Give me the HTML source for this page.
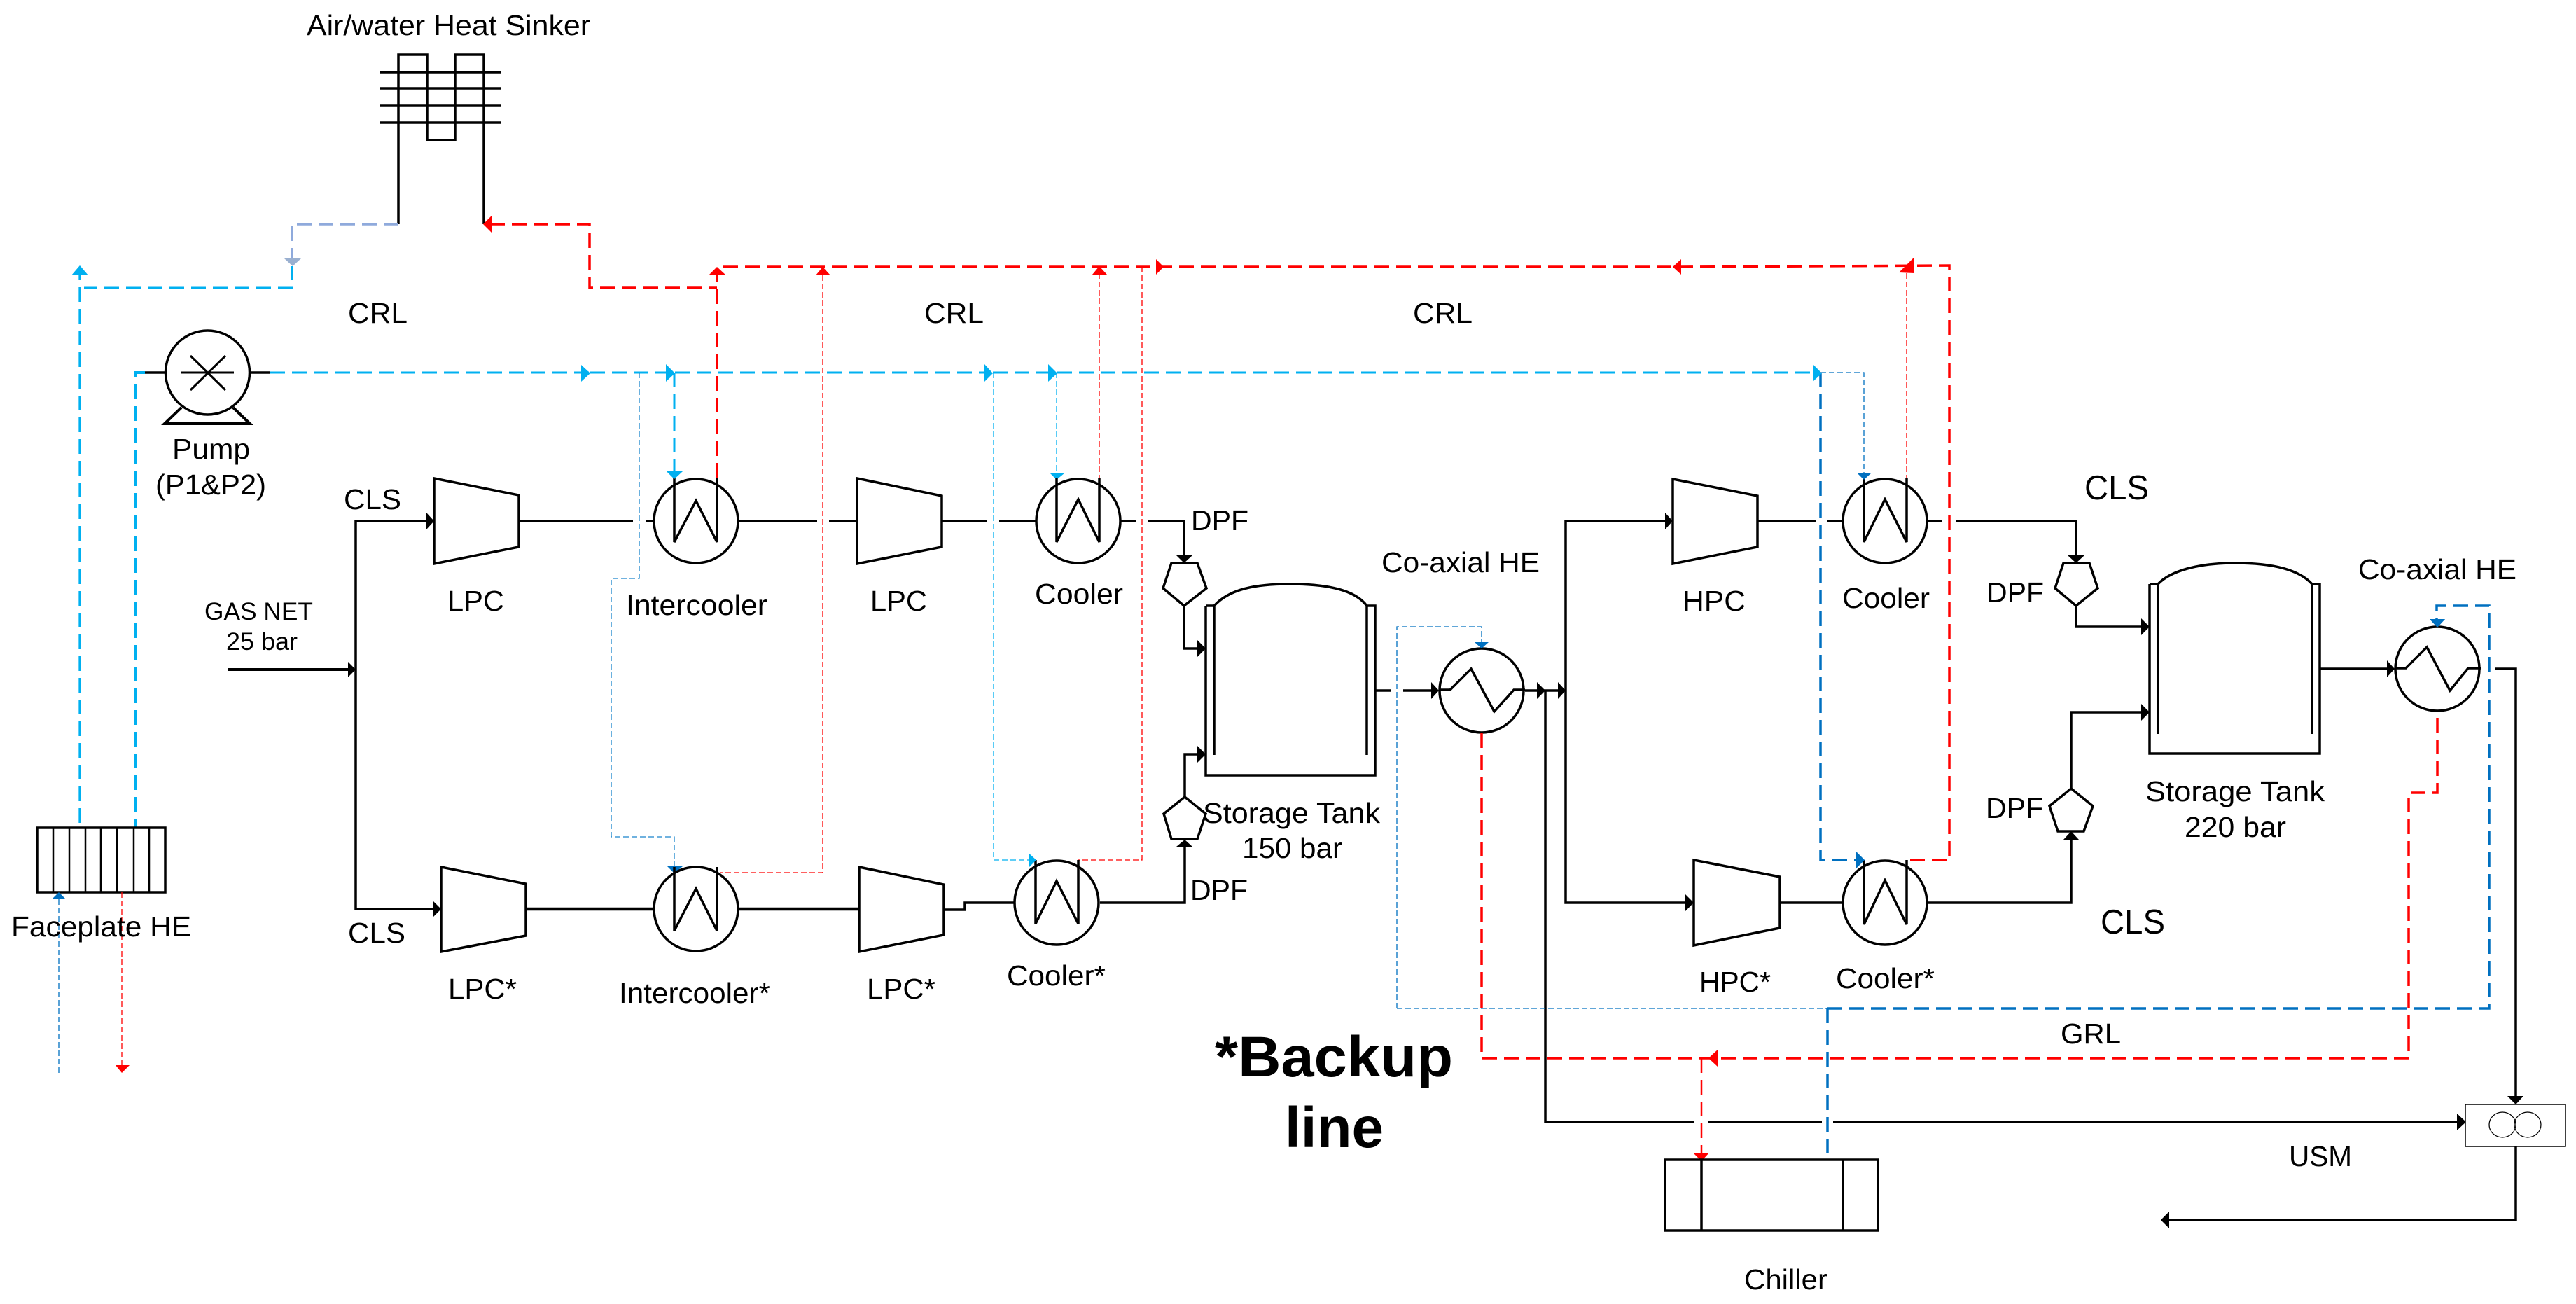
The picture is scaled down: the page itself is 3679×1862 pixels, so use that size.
<!DOCTYPE html>
<html><head><meta charset="utf-8"><style>
html,body{margin:0;padding:0;background:#fff}
svg{display:block}
text{font-family:"Liberation Sans",Arial,sans-serif;font-size:41px;fill:#000}
.k{fill:none;stroke:#000;stroke-width:4;stroke-linejoin:miter}
.t{fill:none;stroke:#000;stroke-width:3.5}
.c{fill:#fff;stroke:#000;stroke-width:3.5}
.d{fill:none;stroke-width:3.5;stroke-dasharray:21 10}
.m{fill:none;stroke-width:2.5;stroke-dasharray:21 10}
.n{fill:none;stroke-width:1.3;stroke-dasharray:8 4}
.r{stroke:#f00}.b{stroke:#00b0f0}.u{stroke:#0070c0}.g{stroke:#8faadc}
.fr{fill:#f00}.fb{fill:#00b0f0}.fu{fill:#0070c0}.fg{fill:#9ab0d0}.fk{fill:#000}
</style></head><body>
<svg xmlns="http://www.w3.org/2000/svg" width="3679" height="1862" viewBox="0 0 3679 1862">
<rect width="3679" height="1862" fill="#fff"/>

<!-- Heat sinker -->
<path class="t" d="M569 320V78H610V200H650V78H691V320"/>
<path class="t" d="M543 103H716M543 126H716M543 151H716M543 175H716"/>
<path class="d g" d="M569 320H417V372"/>
<polygon class="fg" points="406,369 430,369 418,380"/>
<path class="d b" style="stroke-width:3" d="M417 380V400"/>
<path class="d b" style="stroke-width:3" d="M418 411H120"/>
<path class="d b" style="stroke-width:3.3;stroke-dashoffset:12" d="M114 391V1182"/>
<polygon class="fb" points="102,393 126,393 114,379"/>
<polygon class="fr" points="690,320 702,308 702,332"/>
<path class="d r" d="M700 320H842V411H1024"/>
<path class="d r" d="M1024 682V381H2400L2784 379V1228H2723"/>
<polygon class="fr" points="1024,381 1012,393 1037,393"/>

<!-- Pump -->
<circle class="c" cx="296.5" cy="532" r="60"/>
<path class="t" d="M259 532H334M272 508L322 557M322 508L272 557" style="stroke-width:3"/>
<path class="k" d="M259 582L235 605H357L333 582"/>
<path class="t" d="M207 532H235M358 532H386"/>
<path class="d b" d="M207 532H193V1182" style="stroke-width:4"/>
<path class="d b" style="stroke-width:3" d="M386 532H843"/>
<path class="d b" style="stroke-width:3" d="M843 532H951"/>
<path class="d b" style="stroke-width:3" d="M964 532H1406"/>
<path class="d b" style="stroke-width:3" d="M1418 532H1497"/>
<path class="d b" style="stroke-width:3" d="M1510 532H2592"/>
<path class="d u" d="M2600 532V1228H2655"/>
<polygon class="fb" points="843,533 830,521 830,545"/>
<polygon class="fb" points="964,533 951,520 951,545"/>
<polygon class="fb" points="1418,533 1406,520 1406,545"/>
<polygon class="fb" points="1510,533 1497,520 1497,545"/>
<polygon class="fb" points="2602,533 2589,520 2589,545"/>

<!-- Thin blue lines -->
<path class="n" stroke="#1a85cc" d="M913 532V826H873V1195H963V1240"/>
<polygon class="fu" points="953,1237 975,1237 963,1247"/>
<path class="d b" style="stroke-width:3" d="M963 532V675"/>
<polygon class="fb" points="951,672 976,672 963,684"/>
<path class="n b" d="M1509 532V677"/>
<polygon class="fb" points="1499,675 1521,675 1509,685"/>
<path class="n b" d="M1419 532V1228H1470"/>
<path class="n u" d="M2600 532H2662V677"/>
<polygon class="fu" points="2652,675 2673,675 2662,685"/>

<!-- Thin red lines -->
<path class="n r" d="M1175 381V1246H1028"/>
<polygon class="fr" points="1175,381 1165,393 1186,393"/>
<path class="n r" d="M1570 686V381"/>
<polygon class="fr" points="1570,380 1560,392 1581,392"/>
<path class="n r" d="M1631 381V1228H1540"/>
<path class="n r" d="M2723 686V388"/>
<polygon class="fr" points="2712,389 2734,367 2734,390"/>
<polygon class="fr" points="1662,381 1651,370 1651,392"/>
<polygon class="fr" points="2389,381 2401,370 2401,392"/>

<!-- Faceplate -->
<rect class="t" x="53" y="1182" width="183" height="92"/>
<path d="M76 1182V1274M99 1182V1274M122 1182V1274M144 1182V1274M167 1182V1274M191 1182V1274M213 1182V1274" stroke="#000" stroke-width="2.5" fill="none"/>
<path class="n u" d="M84 1284V1532"/>
<polygon class="fu" points="84,1274 74,1284 94,1284"/>
<path class="n r" d="M174 1274V1524"/>
<polygon class="fr" points="174,1532 165,1521 185,1521"/>

<!-- CLS lines -->
<path class="k" d="M326 956H497"/>
<polygon class="fk" points="508,956 497,945 497,967"/>
<path class="k" d="M610 744H508V1298H620" style="stroke-width:3.5"/>
<polygon class="fk" points="620,744 609,732 609,756"/>
<polygon class="fk" points="630,1298 618,1286 618,1310"/>

<!-- LPC -->
<polygon class="c" points="620,683 741,707 741,781 620,805"/>
<path class="t" d="M741 744H904M922 744H933M1055 744H1167M1184 744H1224"/>
<circle class="c" cx="994" cy="744" r="60"/>
<path class="t" d="M963 682V774L994 715L1024 774V682"/>
<polygon class="fb" points="951,672 976,672 963,684"/>
<path class="d r" d="M1024 682V390"/>

<polygon class="c" points="1224,683 1345,708 1345,781 1224,805"/>
<path class="t" d="M1345 744H1410M1427 744H1479M1600 744H1622M1640 744H1691V796"/>
<circle class="c" cx="1540" cy="744" r="60"/>
<path class="t" d="M1509 682V774L1540 713L1570 774V682"/>
<polygon class="fk" points="1691,804 1680,793 1703,793"/>
<polygon class="c" points="1673,804 1710,804 1723,840 1691,865 1661,840"/>
<path class="t" d="M1691 865V926H1712"/>
<polygon class="fk" points="1722,926 1710,914 1710,938"/>

<!-- Lower row -->
<polygon class="c" points="630,1238 751,1262 751,1336 630,1359"/>
<path class="k" d="M751 1298H933M1055 1298H1227" style="stroke-width:4.5"/>
<circle class="c" cx="994" cy="1298" r="60"/>
<path class="t" d="M963 1238V1329L994 1269L1024 1329V1238"/>
<polygon class="c" points="1227,1238 1348,1263 1348,1335 1227,1359"/>
<path class="t" d="M1348 1299H1378V1289H1448"/>
<circle class="c" cx="1509" cy="1289" r="60"/>
<path class="t" d="M1479 1228V1319L1509 1258L1540 1319V1228"/>
<polygon class="fb" points="1480,1228 1469,1218 1469,1239"/>
<path class="t" d="M1571 1289H1692V1207"/>
<polygon class="fk" points="1692,1199 1680,1209 1703,1209"/>
<polygon class="c" points="1692,1138 1722,1162 1710,1198 1673,1198 1662,1162"/>
<path class="t" d="M1692 1138V1077H1712"/>
<polygon class="fk" points="1722,1077 1710,1065 1710,1089"/>

<!-- Tank 150 -->
<path class="t" d="M1722 865V1107H1964V865H1952V1078M1722 865H1734V1078"/>
<path class="t" d="M1734 865C1755 842 1790 834 1842 834C1895 834 1935 842 1952 865"/>

<!-- Coaxial 1 -->
<path class="t" d="M1964 986H1987M2004 986H2048"/>
<polygon class="fk" points="2055,986 2044,974 2044,998"/>
<circle class="c" cx="2116" cy="986" r="60"/>
<path class="t" d="M2055 985H2071L2101 955L2134 1016L2162 985H2178"/>
<path class="t" d="M2178 986H2230"/>
<polygon class="fk" points="2207,986 2195,974 2195,998"/>
<polygon class="fk" points="2236,986 2225,974 2225,998"/>
<path class="t" d="M2207 986V1602H2420M2440 1602H2602M2618 1602H3512"/>
<polygon class="fk" points="3522,1602 3509,1590 3509,1614"/>
<path class="t" d="M2380 744H2236V1289H2412"/>
<polygon class="fk" points="2389,744 2378,732 2378,756"/>
<polygon class="fk" points="2419,1289 2407,1277 2407,1301"/>
<path class="n u" d="M1995 1440V895H2116V918"/>
<polygon class="fu" points="2106,917 2126,917 2116,926"/>
<path class="n u" d="M1995 1440H2610"/>
<path class="d u" d="M2610 1440H3555V865H3480V888"/>
<polygon class="fu" points="3470,884 3492,884 3481,896"/>
<path class="d u" d="M2610 1440V1656"/>
<path class="d r" d="M2116 1047V1511H3440V1132H3481V1016"/>
<polygon class="fr" points="2440,1511 2453,1499 2453,1523"/>
<path class="m r" d="M2430 1511V1650"/>
<polygon class="fr" points="2430,1658 2418,1646 2441,1646"/>

<!-- Chiller -->
<rect class="t" x="2378" y="1656" width="304" height="101"/>
<path class="t" d="M2430 1656V1757M2632 1656V1757"/>

<!-- HPC -->
<polygon class="c" points="2389,684 2510,708 2510,781 2389,805"/>
<path class="t" d="M2510 744H2594M2610 744H2631M2753 744H2774M2793 744H2965V796"/>
<circle class="c" cx="2692" cy="744" r="60"/>
<path class="t" d="M2662 682V774L2692 713L2723 774V682"/>
<polygon class="fu" points="2652,675 2672,675 2662,685"/>
<polygon class="fk" points="2965,804 2953,793 2977,793"/>
<polygon class="c" points="2947,804 2984,804 2996,840 2965,865 2935,840"/>
<path class="t" d="M2965 865V895H3060"/>
<polygon class="fk" points="3070,895 3058,883 3058,907"/>

<polygon class="c" points="2419,1228 2542,1252 2542,1325 2419,1350"/>
<path class="t" d="M2542 1289H2632M2753 1289H2958V1195"/>
<circle class="c" cx="2692" cy="1289" r="60"/>
<path class="t" d="M2662 1228V1320L2692 1257L2723 1320V1228"/>
<polygon class="fu" points="2663,1228 2651,1216 2651,1240"/>
<polygon class="fk" points="2958,1187 2947,1199 2969,1199"/>
<polygon class="c" points="2958,1126 2989,1151 2976,1187 2939,1187 2927,1151"/>
<path class="t" d="M2958 1126V1017H3060"/>
<polygon class="fk" points="3070,1017 3058,1005 3058,1029"/>

<!-- Tank 220 -->
<path class="t" d="M3070 834V1076H3313V834H3302V1048M3070 834H3082V1048"/>
<path class="t" d="M3082 834C3100 815 3140 804 3192 804C3250 804 3285 815 3302 834"/>

<!-- Coaxial 2 -->
<path class="t" d="M3313 955H3412"/>
<polygon class="fk" points="3420,955 3409,943 3409,967"/>
<circle class="c" cx="3481" cy="955" r="60"/>
<path class="t" d="M3420 954H3436L3466 924L3499 986L3525 954H3543"/>
<path class="t" d="M3564 955H3593V1570"/>
<polygon class="fk" points="3593,1577 3581,1565 3604,1565"/>
<polygon class="fu" points="3481,896 3470,884 3492,884"/>

<!-- USM -->
<rect x="3521" y="1577" width="143" height="60" fill="#fff" stroke="#000" stroke-width="1.5"/>
<ellipse cx="3574" cy="1606" rx="19" ry="18" fill="none" stroke="#000" stroke-width="1.2"/>
<ellipse cx="3610" cy="1606" rx="19" ry="18" fill="none" stroke="#000" stroke-width="1.2"/>
<polygon class="fk" points="3521,1602 3509,1590 3509,1614"/>
<path class="t" d="M3593 1637V1742H3095"/>
<polygon class="fk" points="3086,1742 3098,1730 3098,1754"/>

<!-- Labels -->
<text x="438" y="50" textLength="405" lengthAdjust="spacingAndGlyphs">Air/water Heat Sinker</text>
<text x="497" y="461" textLength="85" lengthAdjust="spacingAndGlyphs">CRL</text>
<text x="1320" y="461" textLength="85" lengthAdjust="spacingAndGlyphs">CRL</text>
<text x="2018" y="461" textLength="85" lengthAdjust="spacingAndGlyphs">CRL</text>
<text x="246" y="655" textLength="111" lengthAdjust="spacingAndGlyphs">Pump</text>
<text x="222" y="706" textLength="158" lengthAdjust="spacingAndGlyphs">(P1&amp;P2)</text>
<text x="491" y="727" textLength="82" lengthAdjust="spacingAndGlyphs">CLS</text>
<text x="639" y="872" textLength="81" lengthAdjust="spacingAndGlyphs">LPC</text>
<text x="894" y="878" textLength="202" lengthAdjust="spacingAndGlyphs">Intercooler</text>
<text x="292" y="885" textLength="155" lengthAdjust="spacingAndGlyphs" style="font-size:35px">GAS NET</text>
<text x="323" y="928" textLength="102" lengthAdjust="spacingAndGlyphs" style="font-size:35px">25 bar</text>
<text x="16" y="1337" textLength="257" lengthAdjust="spacingAndGlyphs">Faceplate HE</text>
<text x="497" y="1346" textLength="82" lengthAdjust="spacingAndGlyphs">CLS</text>
<text x="640" y="1426" textLength="98" lengthAdjust="spacingAndGlyphs">LPC*</text>
<text x="884" y="1432" textLength="216" lengthAdjust="spacingAndGlyphs">Intercooler*</text>
<text x="1243" y="872" textLength="81" lengthAdjust="spacingAndGlyphs">LPC</text>
<text x="1238" y="1426" textLength="98" lengthAdjust="spacingAndGlyphs">LPC*</text>
<text x="1478" y="862" textLength="126" lengthAdjust="spacingAndGlyphs">Cooler</text>
<text x="1438" y="1407" textLength="141" lengthAdjust="spacingAndGlyphs">Cooler*</text>
<text x="1701" y="757" textLength="82" lengthAdjust="spacingAndGlyphs">DPF</text>
<text x="1700" y="1285" textLength="82" lengthAdjust="spacingAndGlyphs">DPF</text>
<text x="1973" y="817" textLength="226" lengthAdjust="spacingAndGlyphs">Co-axial HE</text>
<text x="1718" y="1175" textLength="253" lengthAdjust="spacingAndGlyphs">Storage Tank</text>
<text x="1774" y="1225" textLength="143" lengthAdjust="spacingAndGlyphs">150 bar</text>
<text x="2403" y="872" textLength="90" lengthAdjust="spacingAndGlyphs">HPC</text>
<text x="2427" y="1416" textLength="102" lengthAdjust="spacingAndGlyphs">HPC*</text>
<text x="2631" y="868" textLength="125" lengthAdjust="spacingAndGlyphs">Cooler</text>
<text x="2622" y="1411" textLength="141" lengthAdjust="spacingAndGlyphs">Cooler*</text>
<text x="2977" y="713" textLength="92" lengthAdjust="spacingAndGlyphs" style="font-size:49px">CLS</text>
<text x="3000" y="1333" textLength="92" lengthAdjust="spacingAndGlyphs" style="font-size:49px">CLS</text>
<text x="2837" y="860" textLength="82" lengthAdjust="spacingAndGlyphs">DPF</text>
<text x="2836" y="1168" textLength="82" lengthAdjust="spacingAndGlyphs">DPF</text>
<text x="3064" y="1144" textLength="256" lengthAdjust="spacingAndGlyphs">Storage Tank</text>
<text x="3120" y="1195" textLength="145" lengthAdjust="spacingAndGlyphs">220 bar</text>
<text x="3368" y="827" textLength="226" lengthAdjust="spacingAndGlyphs">Co-axial HE</text>
<text x="2943" y="1490" textLength="86" lengthAdjust="spacingAndGlyphs">GRL</text>
<text x="3269" y="1665" textLength="90" lengthAdjust="spacingAndGlyphs">USM</text>
<text x="2491" y="1841" textLength="119" lengthAdjust="spacingAndGlyphs">Chiller</text>
<text x="1735" y="1537" textLength="340" lengthAdjust="spacingAndGlyphs" style="font-size:82px;font-weight:bold">*Backup</text>
<text x="1835" y="1638" textLength="141" lengthAdjust="spacingAndGlyphs" style="font-size:82px;font-weight:bold">line</text>
</svg>
</body></html>
